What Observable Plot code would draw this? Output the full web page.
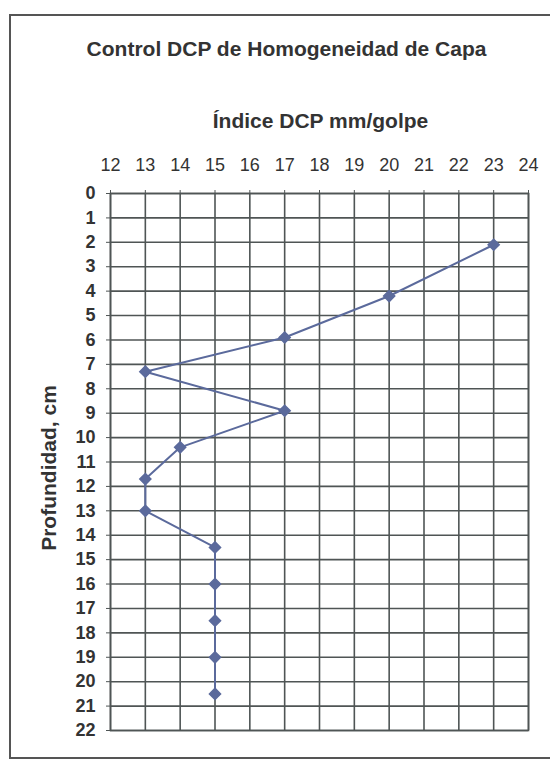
<!DOCTYPE html>
<html>
<head>
<meta charset="utf-8">
<script src="https://cdn.jsdelivr.net/npm/d3@7"></script>
<script src="https://cdn.jsdelivr.net/npm/@observablehq/plot@0.6"></script>
<style>
  html, body { margin: 0; padding: 0; background: #fff; }
  #wrap { position: relative; width: 550px; height: 762px; overflow: hidden; }
  #border { position: absolute; left: 9px; top: 14px; width: 560px; height: 745px; border: 2px solid #555; box-sizing: border-box; }
  #chart { position: absolute; left: 0; top: 0; }
</style>
</head>
<body>
<div id="wrap"><div id="border"></div><div id="chart"></div></div>
<script>
const titulo = "Control DCP de Homogeneidad de Capa";
const tituloX = "Índice DCP mm/golpe";
const tituloY = "Profundidad, cm";
const indice = [23, 20, 17, 13, 17, 14, 13, 13, 15, 15, 15, 15, 15];
const profundidad = [2.1, 4.2, 5.9, 7.3, 8.9, 10.4, 11.7, 13.0, 14.5, 16.0, 17.5, 19.0, 20.5];
const xTicks = [12, 13, 14, 15, 16, 17, 18, 19, 20, 21, 22, 23, 24];
const yTicks = [0, 1, 2, 3, 4, 5, 6, 7, 8, 9, 10, 11, 12, 13, 14, 15, 16, 17, 18, 19, 20, 21, 22];

const data = indice.map((v, i) => ({x: v, y: profundidad[i]}));
const grid = "#4f5555";
const serie = "#5b6a9c";
const texto = "#333";

const chart = Plot.plot({
  width: 550,
  height: 762,
  marginLeft: 110,
  marginRight: 22,
  marginTop: 193,
  marginBottom: 32,
  style: {fontFamily: "'Liberation Sans', Arial, sans-serif", background: "transparent", color: texto},
  x: {domain: [12, 24], ticks: xTicks},
  y: {domain: [0, 22], reverse: true, ticks: yTicks},
  marks: [
    Plot.gridX(xTicks, {stroke: grid, strokeOpacity: 1, strokeWidth: 1.6}),
    Plot.gridY(yTicks, {stroke: grid, strokeOpacity: 1, strokeWidth: 1.6}),
    Plot.frame({stroke: grid, strokeWidth: 1.6}),
    Plot.axisX(xTicks, {anchor: "top", tickSize: 4, tickPadding: 19, fontSize: 18, label: null, stroke: grid, fill: texto}),
    Plot.axisY(yTicks, {anchor: "left", tickSize: 4, tickPadding: 11, fontSize: 18, fontWeight: "bold", label: null, stroke: grid, fill: texto}),
    Plot.line(data, {x: "x", y: "y", stroke: serie, strokeWidth: 2}),
    Plot.dot(data, {x: "x", y: "y", symbol: "diamond2", r: 5, fill: serie, stroke: serie}),
    Plot.text([titulo], {frameAnchor: "top", lineAnchor: "middle", textAnchor: "middle", text: d => d, dx: -33, dy: -144, fontSize: 21, fontWeight: "bold", fill: texto}),
    Plot.text([tituloX], {frameAnchor: "top", lineAnchor: "middle", textAnchor: "middle", text: d => d, dx: 1, dy: -72, fontSize: 21, fontWeight: "bold", fill: texto}),
    Plot.text([tituloY], {frameAnchor: "left", lineAnchor: "middle", textAnchor: "middle", text: d => d, dx: -61, dy: 6, rotate: -90, fontSize: 21, fontWeight: "bold", fill: texto})
  ]
});
document.getElementById("chart").appendChild(chart);
</script>
</body>
</html>
